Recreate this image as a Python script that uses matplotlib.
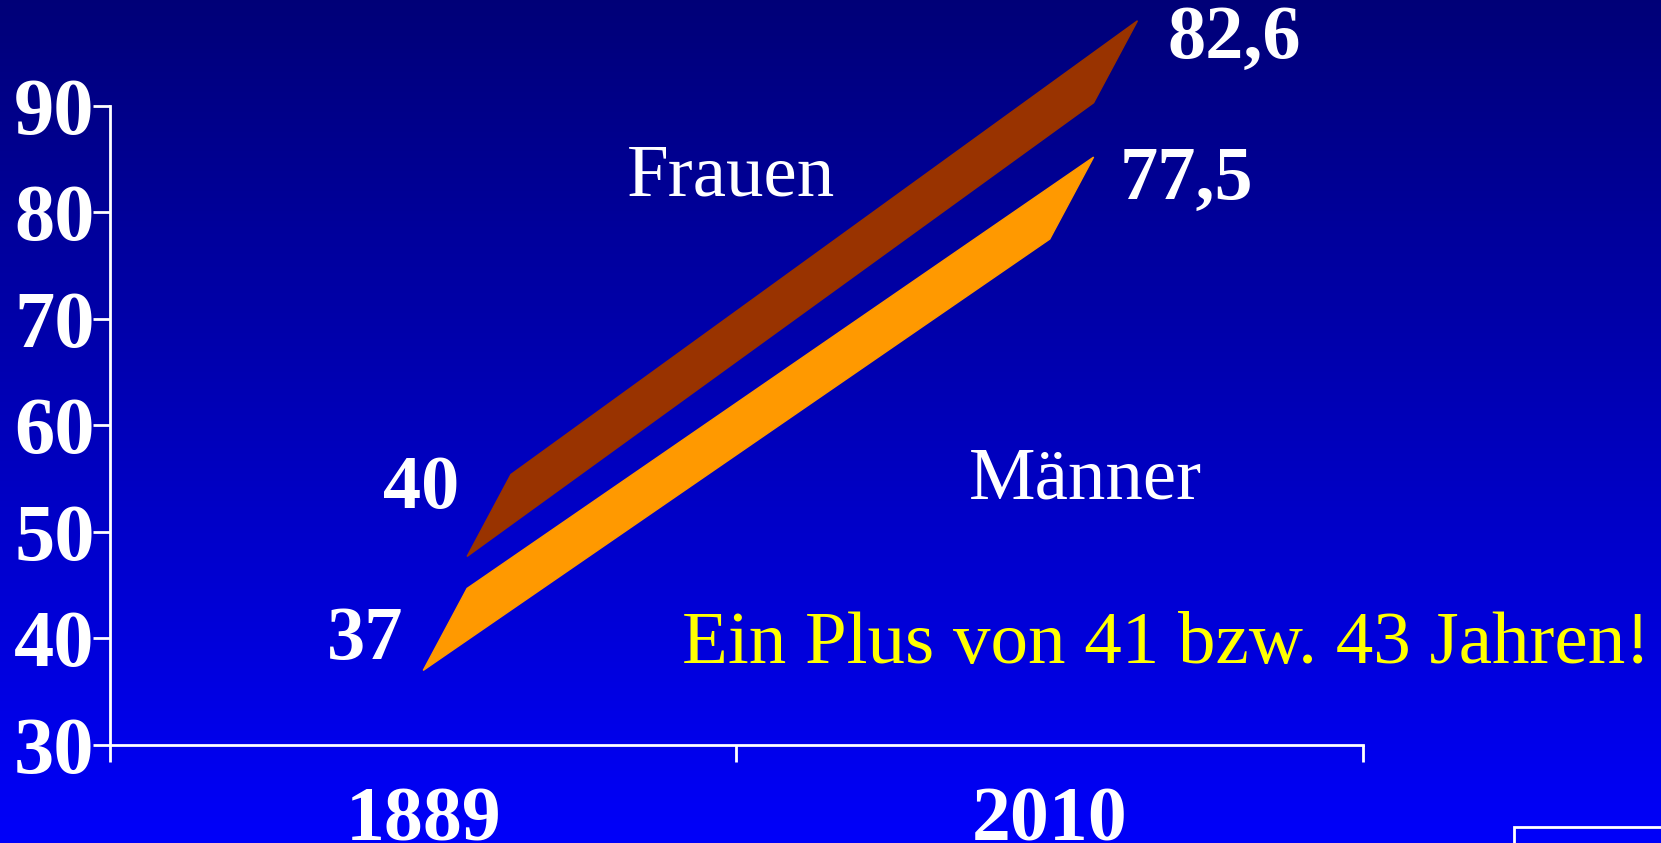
import numpy as np
import matplotlib.pyplot as plt
from matplotlib.patches import Polygon, Rectangle

# Lebenserwartung 1889 vs 2010
years = ["1889", "2010"]
frauen = [40, 82.6]
maenner = [37, 77.5]
yticks = [30, 40, 50, 60, 70, 80, 90]

# 3D-Tiefe der Bänder (wie im PowerPoint-Diagramm)
depth = np.array([0.07, 7.7])

plt.rcParams['font.family'] = ['Liberation Serif', 'DejaVu Serif']

fig = plt.figure(figsize=(16.61, 8.43), dpi=100)

# Hintergrund-Verlauf dunkelblau -> blau
bg = fig.add_axes([0, 0, 1, 1], zorder=0)
grad = np.linspace(0, 1, 256).reshape(-1, 1)
rgb = np.zeros((256, 1, 3))
rgb[:, 0, 2] = 0.47 + 0.51 * grad[:, 0]
bg.imshow(rgb, aspect='auto', extent=[0, 1, 0, 1], origin='upper')
bg.axis('off')

ax = fig.add_axes([0.0662, 0.1163, 0.7544, 0.758], zorder=1)
ax.patch.set_alpha(0)
ax.set_xlim(0, 2)
ax.set_ylim(30, 90)

xs = np.array([0.5, 1.5])


def ribbon(vals, shift, color):
    front = np.column_stack([xs, vals]) + shift * depth
    back = front + depth
    pts = [front[0], back[0], back[1], front[1]]
    ax.add_patch(Polygon(pts, closed=True, facecolor=color, edgecolor=color,
                         lw=1, clip_on=False, zorder=3))


ribbon(frauen, 1, '#993300')
ribbon(maenner, 0, '#FF9900')

for s in ['top', 'right']:
    ax.spines[s].set_visible(False)
for s in ['left', 'bottom']:
    ax.spines[s].set_color('white')
    ax.spines[s].set_linewidth(2)

ax.set_yticks(yticks)
ax.set_yticklabels([str(t) for t in yticks], fontsize=58, fontweight='bold', color='white')
ax.tick_params(axis='y', colors='white', length=12, width=2, pad=-1)
ax.set_xticks([0, 1, 2])
ax.set_xticklabels([])
ax.tick_params(axis='x', which='major', colors='white', length=12, width=2)
ax.set_xticks(xs, minor=True)
ax.set_xticklabels(years, minor=True, fontsize=56, fontweight='bold', color='white')
ax.tick_params(axis='x', which='minor', length=0, pad=30)

# Werte-Beschriftungen
lab = dict(color='white', fontweight='bold', fontsize=55, ha='center', va='center', clip_on=False)
ax.text(0.497, 54.0, str(frauen[0]), **lab)
ax.text(0.407, 39.8, str(maenner[0]), **lab)
ax.text(1.794, 96.2, f"{frauen[1]}".replace('.', ','), **lab)
ax.text(1.718, 83.0, f"{maenner[1]}".replace('.', ','), **lab)

ax.text(0.991, 83.3, "Frauen", color='white', fontsize=54, ha='center', va='center')
ax.text(1.557, 54.8, "Männer", color='white', fontsize=54, ha='center', va='center')
ax.text(1.686, 39.4, "Ein Plus von 41 bzw. 43 Jahren!", color='#FFFF00', fontsize=54,
        ha='center', va='center', clip_on=False)

# kleiner weißer Rahmen unten rechts
fig.add_artist(Rectangle((1514 / 1661, -0.05), 0.2, 16 / 843 + 0.05, transform=fig.transFigure,
                         fill=False, edgecolor='white', lw=2))

fig.savefig("out.png", dpi=100)
